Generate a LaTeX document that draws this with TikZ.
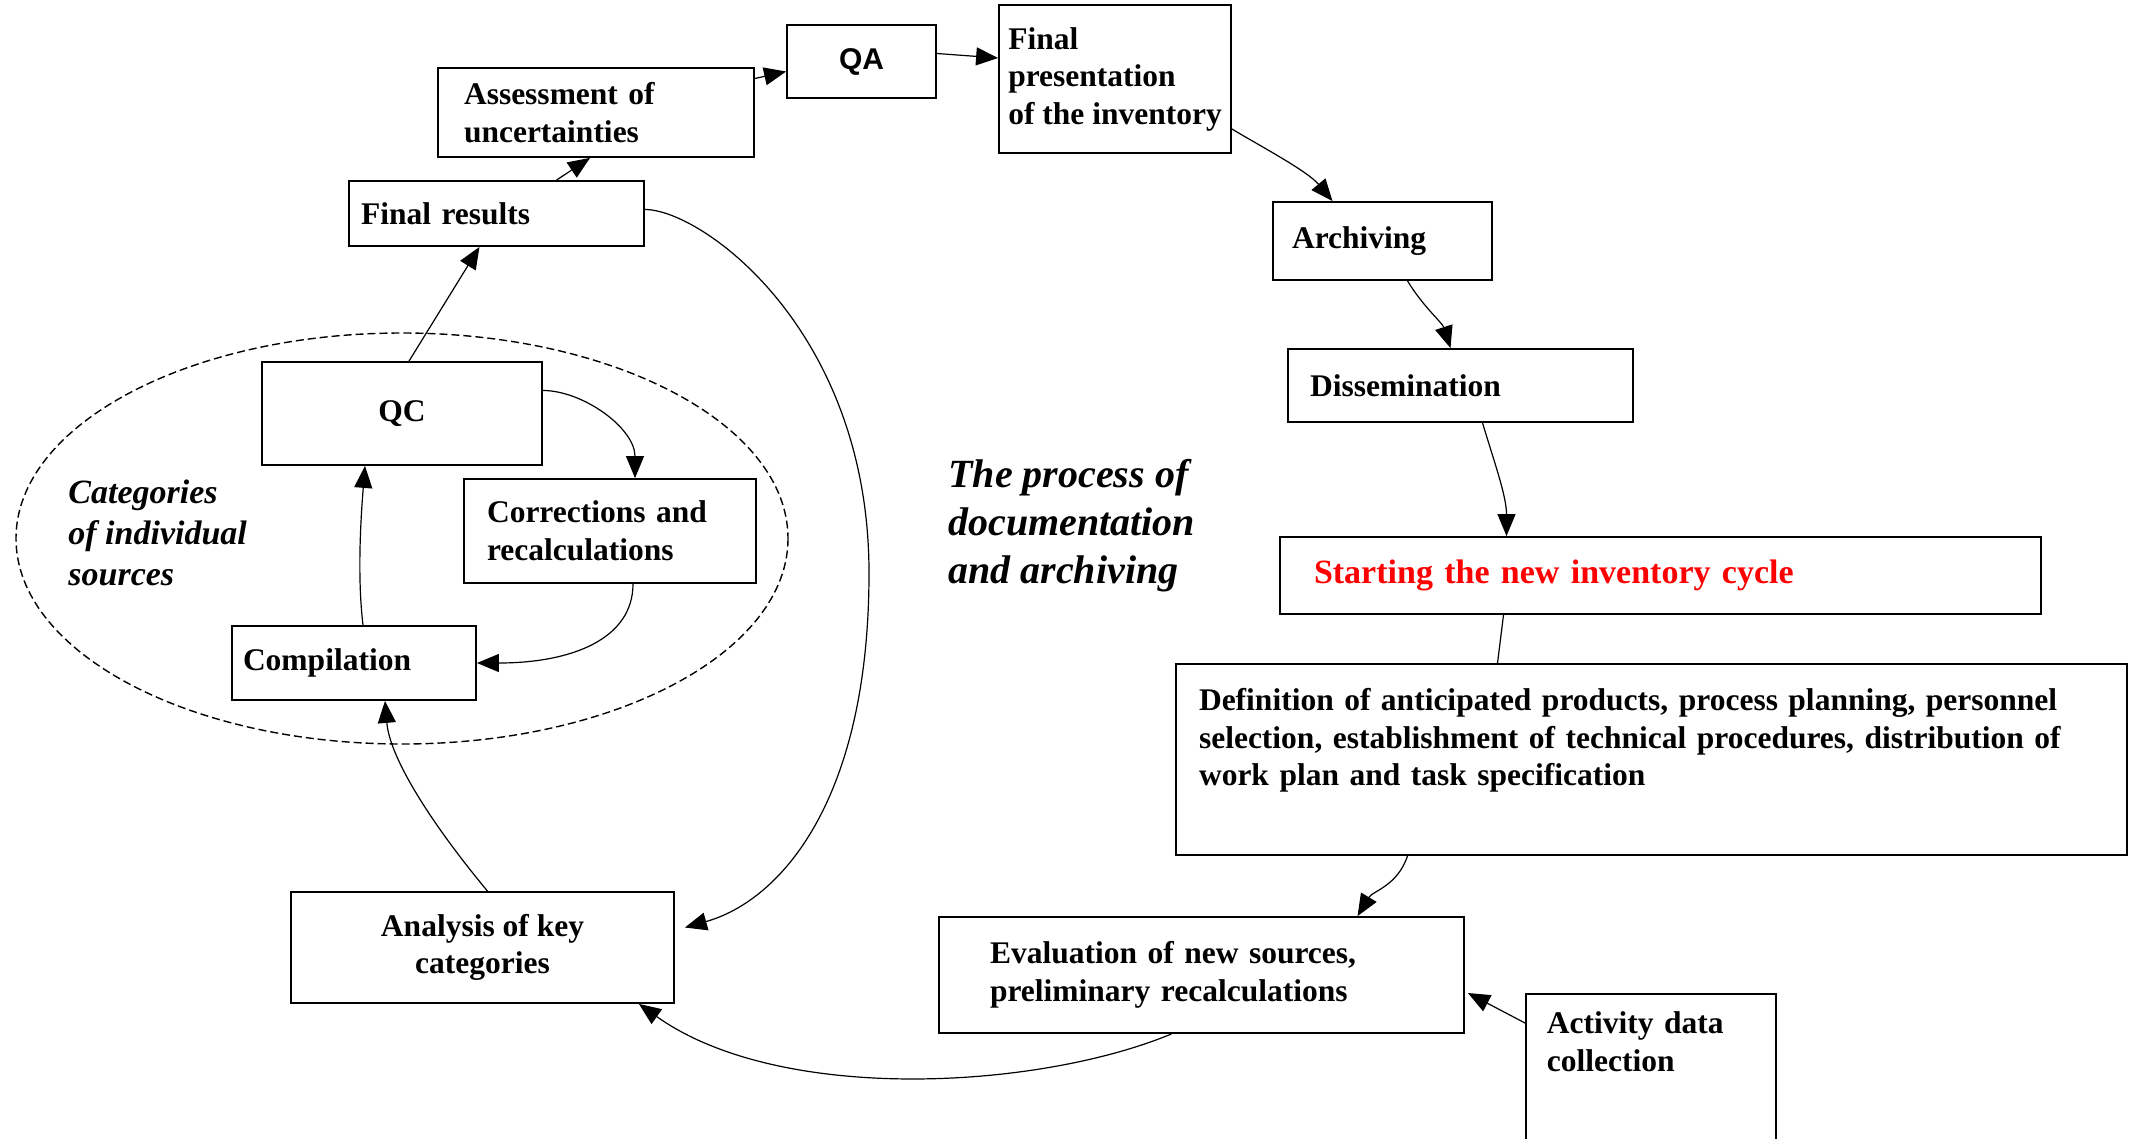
\documentclass[tikz,border=0pt]{standalone}
\usepackage{fontspec}
\setmainfont{Liberation Serif}
\setsansfont{Liberation Sans}
\usepackage{xcolor}
\usepackage{tikz}
\usetikzlibrary{arrows.meta}

\begin{document}
\begin{tikzpicture}[x=0.5pt, y=-0.5pt,
      box/.style={draw, line width=0.9pt, inner ysep=0pt, align=left,
                  font=\fontsize{15.75pt}{18.75pt}\selectfont\bfseries},
      note/.style={inner sep=0pt, align=left,
                   font=\fontsize{17pt}{20.5pt}\selectfont\bfseries\itshape},
      arr/.style={-{Triangle[length=11pt, width=9pt]}, line width=0.6pt},
      lnk/.style={line width=0.6pt}
  ]
    \useasboundingbox (0,0) rectangle (2139,1139);

    % group of individual sources
    \draw[dashed, dash pattern=on 4pt off 2pt, line width=0.7pt]
      (402,538.5) ellipse [x radius=386, y radius=205.5];
    \node[note, anchor=west] (cat) at (68,533) {Categories\\of individual\\sources};
    \node[note, anchor=west, font=\fontsize{20pt}{24pt}\selectfont\bfseries\itshape]
      (proc) at (948,526) {The process of\\documentation\\and archiving};

    % boxes, top row
    \node[box, minimum width=74.5pt, minimum height=36.5pt, align=center,
          font=\fontsize{15pt}{18pt}\selectfont\sffamily\bfseries] (qa) at (861.5,61.5) {QA};
    \node[box, minimum width=158pt, minimum height=44.5pt, text width=132pt, inner xsep=13pt]
      (assess) at (596,112.5) {Assessment of\\uncertainties};
    \node[box, minimum width=116pt, minimum height=74pt, inner xsep=2pt]
      (finpres) at (1115,79) {Final\\presentation\\of the inventory};
    \node[box, minimum width=147.5pt, minimum height=32.5pt, text width=135.5pt, inner xsep=6pt]
      (finres) at (496.5,213.5) {Final results};

    % right column
    \node[box, minimum width=109.5pt, minimum height=39pt, text width=90.5pt, inner xsep=9.5pt]
      (arch) at (1382.5,241) {Archiving};
    \node[box, minimum width=172.5pt, minimum height=36.5pt, text width=150.5pt, inner xsep=11pt]
      (dissem) at (1460.5,385.5) {Dissemination};
    \node[box, minimum width=380.5pt, minimum height=38.5pt, text width=346.5pt, inner xsep=17pt,
          text=red, font=\fontsize{17pt}{20pt}\selectfont\bfseries]
      (start) at (1660.5,575.5) {Starting the new inventory cycle};
    \node[box, minimum width=475.5pt, minimum height=95.5pt, text width=452.5pt, inner xsep=11.5pt]
      (defn) at (1651.5,759.5) {Definition of anticipated products, process planning, personnel\\
        selection, establishment of technical procedures, distribution of\\
        work plan and task specification\\[3.5pt] \mbox{}};
    \node[box, minimum width=262.5pt, minimum height=58pt, text width=211.5pt, inner xsep=25.5pt]
      (evalsrc) at (1201.5,975) {Evaluation of new sources,\\preliminary recalculations};
    \node[box, anchor=north west, text width=104pt, inner xsep=10.5pt, inner ysep=9pt]
      (actdata) at (1525,993) {Activity data\\collection\\ \mbox{}\\ \mbox{}\\ \mbox{}};

    % left loop
    \node[box, minimum width=140pt, minimum height=51.5pt, align=center] (qc) at (402,413.5) {QC};
    \node[box, minimum width=146pt, minimum height=52pt, text width=123pt, inner xsep=11.5pt]
      (corr) at (610,531) {Corrections and\\recalculations};
    \node[box, minimum width=122pt, minimum height=37pt, text width=111pt, inner xsep=5.5pt]
      (comp) at (354,663) {Compilation};
    \node[box, minimum width=191.5pt, minimum height=55.5pt, align=center]
      (keycat) at (482.5,947.5) {Analysis of key\\categories};

    % connectors
    \draw[arr] ([shift={(0,-34)}]assess.east) -- ([shift={(0,10)}]qa.west);
    \draw[arr] ([shift={(0,-8)}]qa.east) -- ([shift={(0,-21)}]finpres.west);
    \draw[arr] ([shift={(0,50)}]finpres.east) .. controls +(30,18) and +(-25,-30) .. ([shift={(-50,0)}]arch.north);
    \draw[arr] ([shift={(25,0)}]arch.south) .. controls +(15,25) and +(-8,-25) .. ([shift={(-10,0)}]dissem.north);
    \draw[arr] ([shift={(22,0)}]dissem.south) .. controls +(12,40) and +(0,-40) .. ([shift={(-154,0)}]start.north);
    \draw[lnk] ([shift={(-157,0)}]start.south) -- ([shift={(-154,0)}]defn.north);
    \draw[arr] ([shift={(-244,0)}]defn.south) .. controls +(-10,30) and +(15,-25) .. ([shift={(156,0)}]evalsrc.north);
    \draw[arr] ([shift={(0,30)}]actdata.north west) -- ([shift={(3,18)}]evalsrc.east);
    \draw[arr] ([shift={(-30,0)}]evalsrc.south) .. controls +(-132,55) and +(142,101) .. ([shift={(-36,0)}]keycat.south east);
    \draw[arr] ([shift={(5,0)}]keycat.north) .. controls +(-50,-60) and +(5,60) .. ([shift={(31,0)}]comp.south);
    \draw[arr] ([shift={(9,0)}]comp.north) .. controls +(-6,-50) and +(-4,50) .. ([shift={(-37,0)}]qc.south);
    \draw[arr] ([shift={(0,-23)}]qc.east) .. controls +(40,0) and +(0,-50) .. ([shift={(25,0)}]corr.north);
    \draw[arr] ([shift={(23,0)}]corr.south) .. controls +(0,55) and +(95,0) .. (comp.east);
    \draw[arr] ([shift={(7,0)}]qc.north) -- ([shift={(-17,0)}]finres.south);
    \draw[arr] ([shift={(60,0)}]finres.north) -- ([shift={(-6,0)}]assess.south);
    \draw[arr] ([shift={(0,-4)}]finres.east) .. controls +(57,0) and +(0,-243) .. (869,573)
      .. controls +(0,227) and +(96,-27) .. ([shift={(10,-20)}]keycat.east);
  \end{tikzpicture}
\end{document}
